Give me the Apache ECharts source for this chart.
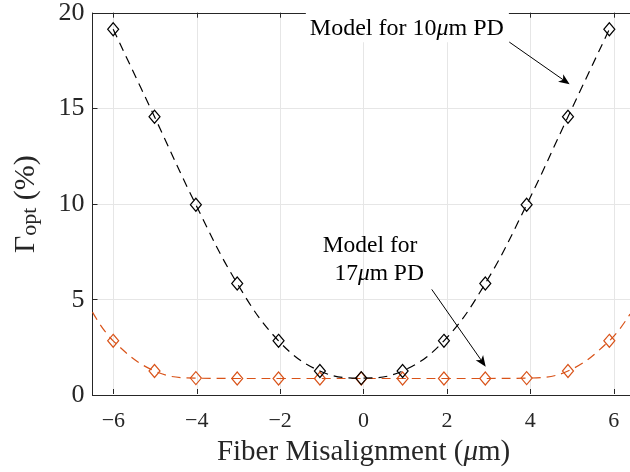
<!DOCTYPE html>
<html><head><meta charset="utf-8">
<script src="https://cdn.jsdelivr.net/npm/echarts@6/dist/echarts.min.js"></script>
<style>html,body{margin:0;padding:0;background:#fff}#c{width:630px;height:472px}</style>
</head><body><div id="c"></div>
<script>
// ---- data ----
const xPositions = [-6, -5, -4, -3, -2, -1, 0, 1, 2, 3, 4, 5, 6];
const model10um  = [19.15, 14.57, 9.97, 5.85, 2.85, 1.27, 0.90, 1.27, 2.85, 5.85, 9.97, 14.57, 19.15];
const model17um  = [2.85, 1.27, 0.90, 0.88, 0.88, 0.88, 0.88, 0.88, 0.88, 0.88, 0.90, 1.27, 2.85];
const model17umEdgeX = [-6.5, 6.5];
const model17umEdgeY = [4.35, 4.25];
const xTickValues = [-6, -4, -2, 0, 2, 4, 6];
const yTickValues = [0, 5, 10, 15, 20];
const xRange = [-6.5, 6.5];
const yRange = [0, 20];
const annotationTexts = ['Model for 10{i|\u03bc}m PD', 'Model for\n  17{i|\u03bc}m PD'];
const annotationTextAt = [[-1.34, 20.14], [-0.933, 8.54]];
const arrowFrom = [[3.58, 18.48], [1.705, 5.54]];
const arrowTo   = [[5.04, 16.27], [3.01, 1.50]];

// ---- layout / style ----
const FONT = 'Liberation Serif';
const AX = '#262626';
const GRIDC = '#e6e6e6';
const G = {left: 92.5, top: 12.7, width: 542.1, height: 382.6};
const span = xRange[1] - xRange[0];
const innerLeft = G.left + G.width * (xTickValues[0] - xRange[0]) / span;
const innerWidth = G.width * (xTickValues[xTickValues.length - 1] - xTickValues[0]) / span;

const chart = echarts.init(document.getElementById('c'), null, {renderer: 'canvas'});

function withMarkers(xs, ys) {
  return xs.map((x, i) => [x, ys[i]]);
}
const orangeData = [
  {value: [model17umEdgeX[0], model17umEdgeY[0]], symbol: 'none'},
  ...withMarkers(xPositions, model17um),
  {value: [model17umEdgeX[1], model17umEdgeY[1]], symbol: 'none'}
];
const blackData = withMarkers(xPositions, model10um);

const minusFmt = v => (v < 0 ? '\u2212' + Math.abs(v) : String(v));
const axLine = {show: true, onZero: false, lineStyle: {color: AX, width: 1}};
const noLine = {show: false, onZero: false};

const option = {
  animation: false,
  backgroundColor: '#fff',
  grid: [
    {left: G.left, top: G.top, width: G.width, height: G.height},
    {left: innerLeft, top: G.top, width: innerWidth, height: G.height}
  ],
  xAxis: [
    {gridIndex: 0, type: 'value', position: 'bottom', min: xRange[0], max: xRange[1],
     axisLine: axLine, axisTick: {show: false},
     axisLabel: {show: false}, splitLine: {show: false}},
    {gridIndex: 0, type: 'value', position: 'top', min: xRange[0], max: xRange[1],
     axisLine: axLine, axisTick: {show: false},
     axisLabel: {show: false}, splitLine: {show: false}},
    {gridIndex: 1, type: 'value', position: 'bottom',
     min: xTickValues[0], max: xTickValues[xTickValues.length - 1], interval: xTickValues[1] - xTickValues[0],
     axisLine: noLine,
     axisTick: {show: true, inside: true, length: 5, lineStyle: {color: AX, width: 1}},
     axisLabel: {show: true, margin: 16, fontFamily: FONT, fontSize: 22, color: AX, formatter: minusFmt},
     splitLine: {show: true, lineStyle: {color: GRIDC, width: 1}},
     name: 'Fiber Misalignment ({i|\u03bc}m)', nameLocation: 'middle', nameGap: 44,
     nameTextStyle: {fontFamily: FONT, fontSize: 29, color: AX,
       rich: {i: {fontFamily: FONT, fontSize: 29, fontStyle: 'italic', color: AX}}}},
    {gridIndex: 1, type: 'value', position: 'top',
     min: xTickValues[0], max: xTickValues[xTickValues.length - 1], interval: xTickValues[1] - xTickValues[0],
     axisLine: noLine,
     axisTick: {show: true, inside: true, length: 5, lineStyle: {color: AX, width: 1}},
     axisLabel: {show: false}, splitLine: {show: false}}
  ],
  yAxis: [
    {gridIndex: 0, type: 'value', position: 'left', min: yTickValues[0], max: yTickValues[yTickValues.length - 1],
     interval: yTickValues[1] - yTickValues[0],
     axisLine: axLine,
     axisTick: {show: true, inside: true, length: 5, lineStyle: {color: AX, width: 1}},
     axisLabel: {show: true, margin: 8, fontFamily: FONT, fontSize: 26, color: AX, padding: [5, 0, 0, 0]},
     splitLine: {show: true, lineStyle: {color: GRIDC, width: 1}},
     name: '{m|\u0393}{s|opt}{m| (%)}', nameLocation: 'middle', nameRotate: 90, nameGap: 51,
     nameTextStyle: {fontFamily: FONT, fontSize: 30, color: AX,
       rich: {
         m: {fontFamily: FONT, fontSize: 30, lineHeight: 30, verticalAlign: 'middle', color: AX},
         s: {fontFamily: FONT, fontSize: 22, lineHeight: 6, verticalAlign: 'bottom', color: AX}
       }}},
    {gridIndex: 1, type: 'value', min: yRange[0], max: yRange[1], show: false,
     axisLine: noLine, axisTick: {show: false}, axisLabel: {show: false}, splitLine: {show: false}}
  ],
  series: [
    {name: '17um PD', type: 'line', xAxisIndex: 0, yAxisIndex: 0, data: orangeData, smooth: 0.4,
     symbol: 'diamond', symbolSize: [11, 13], showSymbol: true,
     lineStyle: {color: '#D95319', width: 1.2, type: [9, 6]},
     itemStyle: {color: 'rgba(0,0,0,0)', borderColor: '#D95319', borderWidth: 1.2}, z: 3},
    {name: '10um PD', type: 'line', xAxisIndex: 0, yAxisIndex: 0, data: blackData, smooth: 0.4,
     symbol: 'diamond', symbolSize: [11, 13], showSymbol: true,
     lineStyle: {color: '#000', width: 1.2, type: [9, 6]},
     itemStyle: {color: 'rgba(0,0,0,0)', borderColor: '#000', borderWidth: 1.2}, z: 4}
  ]
};
chart.setOption(option);

// ---- annotations (anchored in data coordinates) ----
const toPx = p => chart.convertToPixel({xAxisIndex: 0, yAxisIndex: 0}, p);
function arrowEls(a, b) {
  const p1 = toPx(a), p2 = toPx(b);
  const dx = p2[0] - p1[0], dy = p2[1] - p1[1], L = Math.hypot(dx, dy);
  const ux = dx / L, uy = dy / L, nx = -uy, ny = ux;
  const hl = 11, hw = 4.5, notch = 3;
  const bx = p2[0] - ux * hl, by = p2[1] - uy * hl;
  const mx = p2[0] - ux * (hl - notch), my = p2[1] - uy * (hl - notch);
  return [
    {type: 'line', z: 100, shape: {x1: p1[0], y1: p1[1], x2: mx, y2: my}, style: {stroke: '#000', lineWidth: 1}},
    {type: 'polygon', z: 100, shape: {points: [p2, [bx + nx * hw, by + ny * hw], [mx, my], [bx - nx * hw, by - ny * hw]]},
     style: {fill: '#000'}}
  ];
}
const annFontSizes = [24, 23.5];
const els = [];
annotationTexts.forEach((t, k) => {
  const p = toPx(annotationTextAt[k]);
  const fs = annFontSizes[k];
  const st = {text: t, rich: {i: {fontFamily: FONT, fontSize: fs, fontStyle: 'italic', fill: '#000'}},
    fontFamily: FONT, fontSize: fs, fill: '#000', align: 'left', verticalAlign: 'top', lineHeight: 27.7};
  if (k === 0) { st.backgroundColor = '#fff'; st.padding = [4, 5, 0, 4]; st.lineHeight = 28; }
  els.push({type: 'text', z: 100, x: p[0], y: p[1], style: st});
  els.push(...arrowEls(arrowFrom[k], arrowTo[k]));
});
chart.setOption({graphic: {elements: els}});
</script>
</body></html>
